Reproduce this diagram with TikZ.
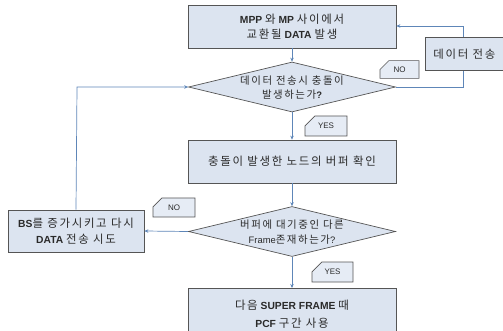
\documentclass[tikz,border=0pt]{standalone}
\usepackage{fontspec}
\setmainfont{Liberation Sans}
\newfontfamily\krf[LetterSpace=15,Scale=1.11]{Noto Sans CJK KR}
\usetikzlibrary{shapes.geometric,shapes.misc,arrows.meta}
\definecolor{boxfill}{HTML}{DCE4F0}
\definecolor{tagfill}{HTML}{E6ECF5}
\definecolor{boxline}{HTML}{555555}
\definecolor{arrowc}{HTML}{5E86B8}
\definecolor{txt}{HTML}{2A2A2A}
\newcommand\kt[1]{{\krf #1}}
\newcommand\bt[1]{{\bfseries #1}}
\begin{document}
\begin{tikzpicture}[x=1pt,y=-1pt,
  proc/.style={draw=boxline, fill=boxfill, line width=0.7pt, minimum width=208pt,
    minimum height=43pt, inner sep=0pt, align=center, text=txt,
    font=\fontsize{10.3}{15.5}\selectfont},
  dec/.style={diamond, draw=boxline, fill=boxfill, line width=0.7pt,
    minimum width=207pt, minimum height=50pt, inner sep=0pt},
  dectext/.style={align=center, text=txt, font=\fontsize{9.4}{14.5}\selectfont, inner sep=0pt},
  tag/.style={chamfered rectangle, chamfered rectangle corners=north west,
    chamfered rectangle xsep=7pt, chamfered rectangle ysep=7pt,
    draw=boxline, fill=tagfill, line width=0.6pt, inner sep=0pt,
    minimum width=40pt, minimum height=18pt, text=txt, font=\fontsize{8}{9}\selectfont},
  flow/.style={draw=arrowc, line width=0.7pt, -{Stealth[length=4pt,width=3.5pt]}}]
\useasboundingbox (0,0) rectangle (503,331);
\clip (0,0) rectangle (503,331);

\node[proc] (b1) at (292,26.5) {\bt{MPP} \kt{와} \bt{MP} \kt{사이에서}\\\kt{교환될} \bt{DATA} \kt{발생}};
\node[dec] (d1) at (292,87) {};
\node[dectext] (d1t) at (292,87.5) {\kt{데이터 전송시 충돌이}\\\kt{발생하는가}\bt{?}};
\node[proc] (b2) at (292,161.5) {\kt{충돌이 발생한 노드의 버퍼 확인}};
\node[dec] (d2) at (292,231.5) {};
\node[dectext] (d2t) at (292,232) {\kt{버퍼에 대기중인 다른}\\Frame\kt{존재하는가}?};
\node[proc, minimum width=136pt, minimum height=42pt] (bs) at (76,231) {\bt{BS}\kt{를 증가시키고 다시}\\\bt{DATA} \kt{전송 시도}};
\node[proc, minimum height=52pt, anchor=north, font=\fontsize{10.3}{18}\selectfont] (b3) at (292,288) {\kt{다음} \bt{SUPER FRAME} \kt{때}\\\bt{PCF} \kt{구간 사용}};

\coordinate (rtop) at (463,26);
\coordinate (rbot) at (463,87);
\coordinate (ltop) at (77,87);

\draw[flow] (b1.south) -- (d1.north);
\draw[flow] (d1.south) -- (b2.north);
\draw[flow] (b2.south) -- (d2.north);
\draw[flow] (d2.west) -- (bs.east);
\draw[flow] (d1.east) -- (rbot) -- (rtop) -- (b1.east |- rtop);
\draw[flow] (bs.north) -- (ltop) -- (d1.west);
\draw[flow] (d2.south) -- (b3.north);

\node[proc, minimum width=86pt, minimum height=33pt, anchor=north west] (dt) at (425,37) {\kt{데이터 전송}\hspace*{8pt}};
\node[tag, minimum width=39pt, minimum height=17pt] (no1) at (399.5,69.5) {NO};
\node[tag, minimum width=42pt, minimum height=20pt] (yes1) at (326,126) {YES};
\node[tag, minimum width=42pt, minimum height=19pt] (no2) at (174,207.5) {NO};
\node[tag, minimum width=41pt, minimum height=20pt] (yes2) at (332.5,272) {YES};
\end{tikzpicture}
\end{document}
